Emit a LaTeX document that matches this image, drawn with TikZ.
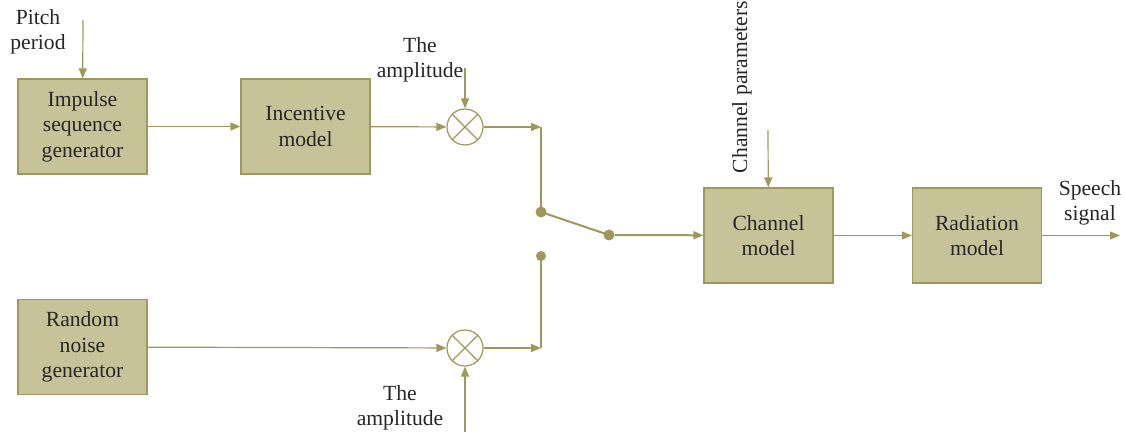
\documentclass[tikz,border=0pt]{standalone}
\usepackage{fontspec}
\setmainfont{Liberation Serif}
\usetikzlibrary{arrows.meta}
\definecolor{olivebox}{RGB}{199,195,153}
\definecolor{oliveline}{RGB}{160,152,90}

\begin{document}
\begin{tikzpicture}[x=0.5pt, y=-0.5pt,
  every node/.style={font=\fontsize{10.8}{12.8}\selectfont, align=center, text=black!85},
  block/.style={rectangle, draw=oliveline, fill=olivebox, line width=0.6pt, inner sep=0pt, minimum width=64.5pt, minimum height=47.5pt},
  mixer/.style={circle, draw=oliveline, fill=white, line width=0.6pt, inner sep=0pt, minimum size=18pt},
  dot/.style={circle, fill=oliveline, inner sep=0pt, minimum size=5.5pt},
  sig/.style={draw=oliveline, line width=0.6pt, -{Triangle[length=5pt,width=4pt]}},
  wire/.style={draw=oliveline, line width=1pt}]
\useasboundingbox (0,0) rectangle (1125,438);
% blocks
\node[block] (impulse) at (82.5,126.5) {Impulse\\sequence\\generator};
\node[block] (incentive) at (305.5,126.5) {Incentive\\model};
\node[block] (noise) at (82.5,347) {Random\\noise\\generator};
\node[block] (channel) at (768.5,235.5) {Channel\\model};
\node[block] (radiation) at (977,235.5) {Radiation\\model};
% multipliers
\node[mixer] (mult1) at (465,127) {};
\node[mixer] (mult2) at (465,348) {};
\draw[oliveline, line width=0.6pt] (mult1.north east) -- (mult1.south west) (mult1.north west) -- (mult1.south east);
\draw[oliveline, line width=0.6pt] (mult2.north east) -- (mult2.south west) (mult2.north west) -- (mult2.south east);
% switch
\node[dot] (sw1) at (541,212) {};
\node[dot] (sw2) at (609,235) {};
\node[dot, minimum size=5pt] (sw3) at (541,256) {};
\coordinate (c1) at (541,127);
\coordinate (c2) at (541,348);
% labels
\node (pitch) at (38,32) {Pitch\\period};
\node (amp1) at (420,60) {The\\amplitude};
\node (amp2) at (400,408) {The\\amplitude};
\node[rotate=90] (chpar) at (742,87) {Channel parameters};
\node (speech) at (1090,203) {Speech\\signal};
\coordinate (pitchin) at (83,20);
\coordinate (amp1in) at (465,68);
\coordinate (amp2in) at (465,432);
\coordinate (chin) at (768,130);
\coordinate (out) at (1120,235.5);
% connections
\draw[sig] (pitchin) -- (impulse);
\draw[sig] (impulse) -- (incentive);
\draw[sig] (incentive) -- (mult1);
\draw[sig] (amp1in) -- (mult1);
\draw[sig] (noise) -- (mult2);
\draw[sig] (amp2in) -- (mult2);
\draw[sig] (mult1) -- (c1);
\draw[sig] (mult2) -- (c2);
\draw[wire] (c1) -- (sw1.center);
\draw[wire] (c2) -- (sw3.center);
\draw[wire] (sw1.center) -- (sw2.center);
\draw[sig, line width=1pt] (sw2) -- (channel);
\draw[sig] (chin) -- (channel);
\draw[sig] (channel) -- (radiation);
\draw[sig] (radiation) -- (out);
\end{tikzpicture}
\end{document}
